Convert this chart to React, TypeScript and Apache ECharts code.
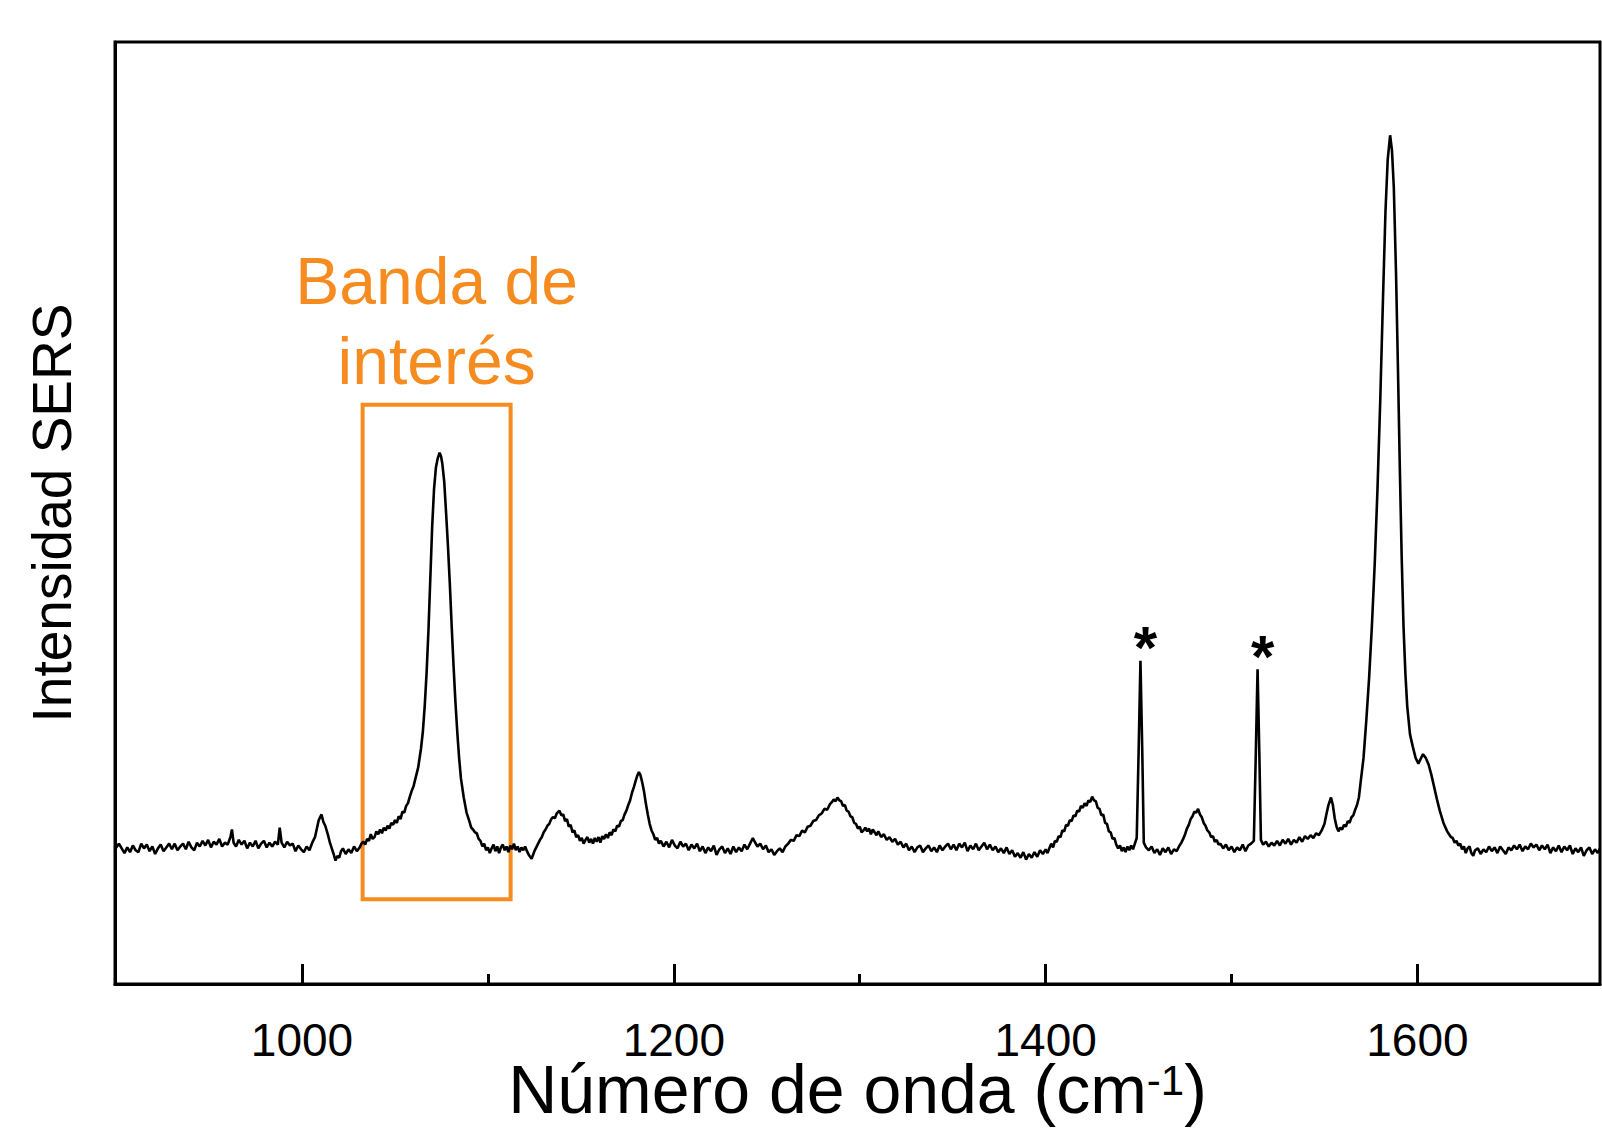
import React, { useEffect, useRef } from "react";
import * as echarts from "echarts";

// SERS spectrum: [wavenumber (cm-1), intensity (a.u., 0-100 scale)]
const spectrum: [number, number][] = [
  [899.4, 14.3], [901.5, 14.9], [903, 14.4], [904.5, 13.9], [906, 14.5], [907.5, 14.0], [909, 14.7], [910.5, 14.2],
  [912, 14.0], [913.5, 14.9], [915, 14.4], [916.5, 14.8], [918, 14.1], [919.5, 14.6], [921, 13.8], [922.5, 14.4],
  [924, 14.8], [925.5, 14.1], [927, 14.5], [928.5, 14.9], [930, 14.3], [931.5, 14.9], [933, 14.2], [934.5, 14.6],
  [936, 14.9], [937.5, 14.3], [939, 15.1], [940.5, 14.5], [942, 14.2], [943.5, 15.0], [945, 14.6], [946.5, 15.2],
  [948, 14.7], [949.5, 15.3], [951, 14.5], [952.5, 15.1], [954, 14.8], [955.5, 15.4], [957, 14.6], [958.5, 15.0],
  [960, 14.8], [961.5, 15.6], [962.3, 16.4], [963.2, 15.0], [964.5, 14.6], [966, 15.3], [967.5, 14.8], [969, 15.2],
  [970.5, 14.4], [972, 15.0], [973.5, 14.6], [975, 15.2], [976.5, 14.4], [978, 14.9], [979.5, 15.2], [981, 14.5],
  [982.5, 15.0], [984, 14.6], [985.5, 15.1], [987, 14.8], [988, 16.6], [989, 15.0], [990.5, 14.5], [992, 15.1],
  [993.5, 14.7], [995, 14.9], [996.5, 14.1], [998, 14.7], [999.5, 14.3], [1001, 14.0], [1002.5, 14.6], [1004, 14.2],
  [1005.5, 15.0], [1007, 15.6], [1008, 16.5], [1009, 17.4], [1010.5, 18.0], [1011.5, 17.2], [1012.5, 16.8],
  [1014, 15.8], [1015, 15.0], [1016, 14.4], [1017, 13.8], [1018, 13.1], [1019, 13.6], [1020, 13.4], [1021, 14.1],
  [1022, 14.4], [1023.5, 13.8], [1025, 14.3], [1026.5, 13.9], [1028, 14.6], [1029.5, 14.1], [1031, 14.5],
  [1032, 14.9], [1033, 15.1], [1034, 14.8], [1035, 15.4], [1036, 15.2], [1037, 15.9], [1038, 15.4], [1039, 15.6],
  [1040, 16.2], [1041, 15.9], [1042, 16.4], [1043, 16.0], [1044, 16.6], [1045, 16.3], [1046, 16.8], [1047, 16.5],
  [1048, 17.1], [1049, 16.9], [1050, 17.4], [1051, 17.1], [1052, 17.8], [1053, 17.5], [1054, 18.3], [1055, 18.2],
  [1056, 18.9], [1057, 19.2], [1058, 19.9], [1059, 20.5], [1060, 21.0], [1061, 21.8], [1062.5, 23.0], [1064, 25.0],
  [1065, 26.8], [1066, 29.5], [1067, 33.0], [1068, 37.5], [1069, 43.0], [1070, 48.5], [1071, 52.5], [1072, 54.8],
  [1073, 55.8], [1074, 56.4], [1074.8, 56.0], [1075.5, 55.2], [1076.5, 53.3], [1077.5, 50.0], [1078.5, 46.5],
  [1079.5, 42.5], [1080.5, 38.0], [1081.5, 33.8], [1082.5, 30.0], [1083.5, 26.8], [1084.5, 24.0], [1085.5, 21.8],
  [1087, 19.8], [1088.5, 18.2], [1090, 17.3], [1091, 16.6], [1092, 16.4], [1093, 16.1], [1094, 16.0], [1095, 15.4],
  [1096, 15.2], [1097, 14.6], [1098, 14.9], [1099, 14.2], [1100, 14.5], [1101, 13.9], [1102, 14.4], [1103, 14.8],
  [1104, 14.1], [1105, 14.6], [1106, 13.9], [1107, 14.5], [1108, 14.8], [1109, 14.2], [1110, 14.6], [1111, 14.0],
  [1112, 14.7], [1113, 14.3], [1114, 14.9], [1115, 14.2], [1116, 14.6], [1117, 14.0], [1118, 14.5], [1119, 14.2],
  [1120, 14.6], [1121, 14.1], [1122, 13.7], [1123.5, 13.3], [1125, 14.1], [1126, 14.5], [1127, 14.9], [1128, 15.3],
  [1129, 15.6], [1130, 16.1], [1131, 16.4], [1132, 16.8], [1133, 17.0], [1134, 17.5], [1135, 17.7], [1136, 17.6],
  [1137, 18.1], [1138.5, 18.4], [1139.5, 17.9], [1140.5, 18.0], [1141.5, 17.3], [1142.5, 17.5], [1143.5, 16.7],
  [1144.5, 16.9], [1145.5, 16.1], [1146.5, 16.3], [1147.5, 15.6], [1148.5, 15.8], [1149.5, 15.2], [1150.5, 15.5],
  [1151.5, 14.9], [1152.5, 15.3], [1153.5, 15.6], [1154.5, 15.0], [1155.5, 15.4], [1156.5, 14.9], [1157.5, 15.5],
  [1158.5, 15.1], [1159.5, 15.6], [1160.5, 15.0], [1161.5, 15.7], [1162.5, 15.4], [1163.5, 15.9], [1164.5, 15.5],
  [1165.5, 16.1], [1166.5, 15.8], [1167.5, 16.4], [1168.5, 16.2], [1169.5, 16.8], [1170.5, 16.7], [1171.5, 17.3],
  [1172.5, 17.4], [1173.5, 18.0], [1174.5, 18.4], [1175.5, 19.0], [1176.5, 19.5], [1177.5, 20.3], [1178.5, 20.9],
  [1179.5, 21.6], [1180.3, 22.1], [1181.2, 22.5], [1182, 22.2], [1183, 21.4], [1184, 20.4], [1185, 19.1],
  [1186, 18.0], [1187, 17.0], [1188, 16.3], [1189, 15.9], [1190, 15.3], [1191, 15.5], [1192, 14.9], [1193, 15.2],
  [1194.5, 14.6], [1196, 15.1], [1197.5, 14.5], [1199, 15.3], [1200.5, 14.7], [1202, 14.4], [1203.5, 15.1],
  [1205, 14.6], [1206.5, 14.9], [1208, 14.2], [1209.5, 14.8], [1211, 14.4], [1212.5, 14.9], [1214, 14.1],
  [1215.5, 14.6], [1217, 13.9], [1218.5, 14.5], [1220, 14.1], [1221.5, 14.7], [1223, 13.7], [1224.5, 14.3],
  [1226, 14.6], [1227.5, 13.9], [1229, 14.4], [1230.5, 13.8], [1232, 14.6], [1233.5, 14.0], [1235, 14.5],
  [1236.5, 14.1], [1238, 14.8], [1239.5, 14.3], [1241, 14.9], [1242.5, 15.5], [1243.5, 15.1], [1245, 14.6],
  [1246.5, 14.9], [1248, 14.3], [1249.5, 14.7], [1251, 14.0], [1252.5, 14.3], [1254, 13.7], [1255.5, 14.1],
  [1257, 14.4], [1258.5, 14.0], [1260, 14.6], [1261.5, 14.9], [1263, 15.3], [1264.5, 15.2], [1266, 15.8],
  [1267.5, 15.7], [1269, 16.3], [1270.5, 16.1], [1272, 16.7], [1273.5, 16.8], [1275, 17.3], [1276.5, 17.4],
  [1278, 17.9], [1279.5, 18.1], [1281, 18.6], [1282.5, 18.5], [1284, 19.1], [1285, 19.3], [1286, 19.6],
  [1287, 19.4], [1288, 19.8], [1289, 19.5], [1290, 19.4], [1291, 18.9], [1292, 19.0], [1293, 18.4], [1294, 18.3],
  [1295, 17.8], [1296, 17.7], [1297, 17.1], [1298, 17.0], [1299, 16.5], [1300, 16.7], [1301, 16.1], [1302, 16.3],
  [1303, 16.6], [1304, 16.2], [1305, 16.5], [1306, 15.9], [1307, 16.4], [1308, 16.1], [1309, 15.8], [1310, 16.2],
  [1311.5, 15.6], [1313, 15.9], [1314.5, 15.3], [1316, 15.6], [1317.5, 15.1], [1319, 15.4], [1320.5, 14.8],
  [1322, 15.1], [1323.5, 14.5], [1325, 14.9], [1326.5, 14.2], [1328, 14.6], [1329.5, 14.0], [1331, 14.5],
  [1332.5, 14.7], [1334, 14.0], [1335.5, 14.4], [1337, 14.7], [1338.5, 14.1], [1340, 14.5], [1341.5, 14.0],
  [1343, 14.7], [1344.5, 14.2], [1346, 14.6], [1347.5, 14.9], [1349, 14.3], [1350.5, 14.8], [1352, 14.2],
  [1353.5, 14.9], [1355, 14.5], [1356.5, 15.0], [1358, 14.1], [1359.5, 14.7], [1361, 14.3], [1362.5, 14.9],
  [1364, 14.2], [1365.5, 14.6], [1367, 15.0], [1368.5, 14.3], [1370, 14.8], [1371.5, 14.2], [1373, 14.6],
  [1374.5, 14.0], [1376, 14.4], [1377.5, 13.9], [1379, 14.5], [1380.5, 13.8], [1382, 14.2], [1383.5, 13.5],
  [1385, 13.9], [1386.5, 13.4], [1388, 14.0], [1389.5, 13.2], [1391, 13.8], [1392.5, 13.4], [1394, 14.0],
  [1395.5, 13.5], [1397, 14.2], [1398.5, 13.8], [1400, 14.3], [1401, 13.9], [1402, 14.4], [1403, 14.9],
  [1404, 14.5], [1405, 15.2], [1406, 15.1], [1407, 15.7], [1408, 15.6], [1409, 16.3], [1410, 16.2], [1411, 16.9],
  [1412, 16.8], [1413, 17.4], [1414, 17.3], [1415, 17.9], [1416, 17.8], [1417, 18.4], [1418, 18.3], [1419, 18.9],
  [1420, 18.7], [1421, 19.2], [1422, 18.9], [1423, 19.5], [1424, 19.3], [1425, 19.9], [1426, 19.5], [1427, 19.4],
  [1428, 18.7], [1429, 18.6], [1430, 17.9], [1431, 18.0], [1432, 17.1], [1433, 17.0], [1434, 16.2], [1435, 16.1],
  [1436, 15.4], [1437, 15.5], [1438, 14.8], [1439, 14.4], [1440, 14.7], [1441, 14.1], [1442, 14.5], [1443, 14.0],
  [1444, 14.6], [1445, 14.2], [1446, 14.7], [1447, 14.3], [1448, 14.9], [1449, 15.5], [1450, 24.5], [1451, 34.3],
  [1452, 24.5], [1452.8, 15.0], [1454, 14.5], [1455.5, 14.2], [1457, 14.6], [1458.5, 13.9], [1460, 14.3],
  [1461.5, 13.7], [1463, 14.4], [1464.5, 14.0], [1466, 14.5], [1467.5, 13.8], [1469, 14.3], [1470.5, 14.1],
  [1472, 14.7], [1473, 15.0], [1474, 15.4], [1475, 15.9], [1476, 16.5], [1477, 16.9], [1478, 17.5], [1479, 17.8],
  [1480, 18.3], [1481, 18.2], [1482, 18.6], [1483, 18.0], [1484, 17.7], [1485, 17.1], [1486, 16.8], [1487, 16.3],
  [1488, 16.1], [1489, 15.6], [1490, 15.7], [1491, 15.1], [1492, 15.3], [1493, 14.8], [1494, 14.9], [1495.5, 14.4],
  [1497, 14.8], [1498.5, 14.2], [1500, 14.6], [1501.5, 14.0], [1503, 14.5], [1504.5, 14.2], [1506, 14.8],
  [1507.5, 14.1], [1509, 14.7], [1510.5, 14.9], [1512, 15.2], [1513, 24.0], [1514, 33.4], [1515, 24.0],
  [1515.8, 15.3], [1517, 14.8], [1518.5, 15.1], [1520, 14.6], [1521.5, 15.0], [1523, 14.7], [1524.5, 15.2],
  [1526, 14.7], [1527.5, 15.3], [1529, 14.9], [1530.5, 15.4], [1532, 14.8], [1533.5, 15.3], [1535, 15.0],
  [1536.5, 15.6], [1538, 15.1], [1539.5, 15.7], [1541, 15.4], [1542.5, 15.8], [1544, 15.5], [1545.5, 16.0],
  [1547, 15.8], [1548.5, 16.3], [1550, 17.0], [1551, 18.0], [1552, 18.9], [1553.5, 19.8], [1554.5, 19.0],
  [1555.5, 17.6], [1556.5, 16.7], [1557.5, 16.2], [1558.5, 16.6], [1559.5, 16.4], [1560.5, 16.9], [1561.5, 16.7],
  [1562.5, 17.3], [1563.5, 17.1], [1564.5, 17.7], [1565.5, 17.9], [1566.5, 18.5], [1567.5, 19.0], [1568.5, 19.8],
  [1569.5, 21.5], [1571, 24.0], [1572.5, 28.0], [1574, 32.5], [1575.5, 38.0], [1577, 44.5], [1578.5, 52.5],
  [1580, 62.0], [1581.5, 73.0], [1582.8, 82.0], [1584, 87.5], [1585.3, 90.1], [1586.3, 88.5], [1587.3, 84.5],
  [1588.5, 75.3], [1589.5, 65.5], [1590.5, 55.0], [1591.5, 45.5], [1592.5, 38.0], [1593.5, 33.0], [1594.5, 29.5],
  [1596, 26.5], [1597.5, 25.2], [1599, 24.0], [1600.5, 23.4], [1602, 24.0], [1603, 24.4], [1604.5, 24.0],
  [1606, 23.3], [1607.5, 22.2], [1609, 20.9], [1610.5, 19.6], [1612, 18.4], [1614, 17.1], [1616, 16.2],
  [1617, 15.9], [1618, 15.6], [1619, 15.5], [1620, 15.0], [1621, 15.2], [1622, 14.7], [1623, 14.9], [1624, 14.3],
  [1625, 14.6], [1626, 13.9], [1627, 14.4], [1628, 14.6], [1629, 13.9], [1630, 13.6], [1631, 14.2], [1632.5, 14.4],
  [1634, 13.8], [1635.5, 14.3], [1637, 14.0], [1638.5, 14.6], [1640, 14.1], [1641.5, 14.5], [1643, 13.9],
  [1644.5, 14.6], [1646, 14.2], [1647.5, 13.8], [1649, 14.5], [1650.5, 14.2], [1652, 14.7], [1653.5, 14.3],
  [1655, 14.8], [1656.5, 14.1], [1658, 14.6], [1659.5, 14.3], [1661, 14.9], [1662.5, 14.5], [1664, 14.8],
  [1665.5, 14.2], [1667, 14.7], [1668.5, 14.3], [1670, 14.8], [1671.5, 13.9], [1673, 14.5], [1674.5, 14.1],
  [1676, 14.7], [1677.5, 14.0], [1679, 14.6], [1680.5, 14.2], [1682, 14.7], [1683.5, 13.8], [1685, 14.4],
  [1686.5, 14.0], [1688, 14.5], [1689.5, 13.6], [1691, 14.2], [1692.5, 14.5], [1694, 13.8], [1695.5, 14.3],
  [1697, 13.9], [1698.2, 14.4],
];

const majorTicks = [1000, 1200, 1400, 1600];
const minorTicks = [1100, 1300, 1500];
const xRange = [899.4, 1698.2];
const yRange = [0, 100];

// Highlighted band box (data coordinates)
const bandBox = { x0: 1032.6, x1: 1112.2, y0: 9.0, y1: 61.5 };
const bandLabel = "Banda de\ninterés";

// Peaks marked with asterisks
const starredPeaks: [number, number][] = [
  [1451, 34.3],
  [1514, 33.4],
];

const ORANGE = "#F68B1F";
const FONT = "'Liberation Sans', Arial, Helvetica, sans-serif";

export default function App() {
  const ref = useRef<HTMLDivElement>(null);

  useEffect(() => {
    if (!ref.current) return;
    const chart = echarts.init(ref.current, undefined, { renderer: "svg" });
    const gridPos = { left: 115, right: 2, top: 42, bottom: 159, outerBoundsMode: "none", containLabel: false };
    chart.setOption({
      animation: false,
      backgroundColor: "#ffffff",
      textStyle: { fontFamily: FONT },
      grid: [
        { ...gridPos, show: true, borderColor: "#000", borderWidth: 3, backgroundColor: "transparent" },
        { ...gridPos, show: false },
      ],
      xAxis: [
        {
          type: "value",
          gridIndex: 0,
          min: xRange[0],
          max: xRange[1],
          splitLine: { show: false },
          axisLine: { show: true, lineStyle: { color: "#000", width: 3 } },
          axisTick: {
            show: true,
            inside: true,
            length: 20,
            customValues: majorTicks,
            lineStyle: { color: "#000", width: 3 },
          },
          axisLabel: {
            show: true,
            customValues: majorTicks,
            formatter: (v: number) => String(v),
            color: "#000",
            fontSize: 46,
            lineHeight: 36,
            margin: 38,
            fontFamily: FONT,
          },
          name: "Número de onda (cm{sup|-1})",
          nameLocation: "middle",
          nameGap: 75,
          nameMoveOverlap: false,
          nameTextStyle: {
            color: "#000",
            fontSize: 68,
            lineHeight: 60,
            fontFamily: FONT,
            rich: {
              sup: {
                fontSize: 42,
                lineHeight: 42,
                verticalAlign: "top",
                color: "#000",
                fontFamily: FONT,
              },
            },
          },
        },
        {
          type: "value",
          gridIndex: 1,
          min: xRange[0],
          max: xRange[1],
          splitLine: { show: false },
          axisLine: { show: false },
          axisTick: {
            show: true,
            inside: true,
            length: 10,
            customValues: minorTicks,
            lineStyle: { color: "#000", width: 3 },
          },
          axisLabel: { show: false },
        },
      ],
      yAxis: [
        {
          type: "value",
          gridIndex: 0,
          min: yRange[0],
          max: yRange[1],
          splitLine: { show: false },
          axisLine: { show: true, lineStyle: { color: "#000", width: 3 } },
          axisTick: { show: false },
          axisLabel: { show: false },
          name: "Intensidad SERS",
          nameLocation: "middle",
          nameGap: 36,
          nameMoveOverlap: false,
          nameTextStyle: { color: "#000", fontSize: 55, fontFamily: FONT },
        },
        {
          type: "value",
          gridIndex: 1,
          min: yRange[0],
          max: yRange[1],
          show: false,
        },
      ],
      series: [
        {
          type: "line",
          xAxisIndex: 0,
          yAxisIndex: 0,
          data: spectrum,
          showSymbol: false,
          symbol: "none",
          silent: true,
          lineStyle: { color: "#000", width: 2.6 },
          markArea: {
            silent: true,
            itemStyle: { color: "rgba(0,0,0,0)", borderColor: ORANGE, borderWidth: 4 },
            label: {
              show: true,
              position: "top",
              distance: 2,
              color: ORANGE,
              fontSize: 66,
              lineHeight: 80,
              fontFamily: FONT,
              formatter: bandLabel,
            },
            data: [
              [
                { xAxis: bandBox.x0, yAxis: bandBox.y0 },
                { xAxis: bandBox.x1, yAxis: bandBox.y1 },
              ],
            ],
          },
          markPoint: {
            silent: true,
            symbol: "circle",
            symbolSize: 1,
            itemStyle: { color: "rgba(0,0,0,0)" },
            label: {
              show: true,
              position: "inside",
              formatter: "*",
              offset: [5, -13],
              color: "#000",
              fontSize: 60,
              fontWeight: "bold",
              fontFamily: FONT,
            },
            data: starredPeaks.map((p) => ({ coord: p })),
          },
        },
      ],
    });
    return () => chart.dispose();
  }, []);

  return (
    <div
      ref={ref}
      style={{ position: "absolute", left: 0, top: 0, width: 1602, height: 1143, background: "#fff" }}
    />
  );
}
